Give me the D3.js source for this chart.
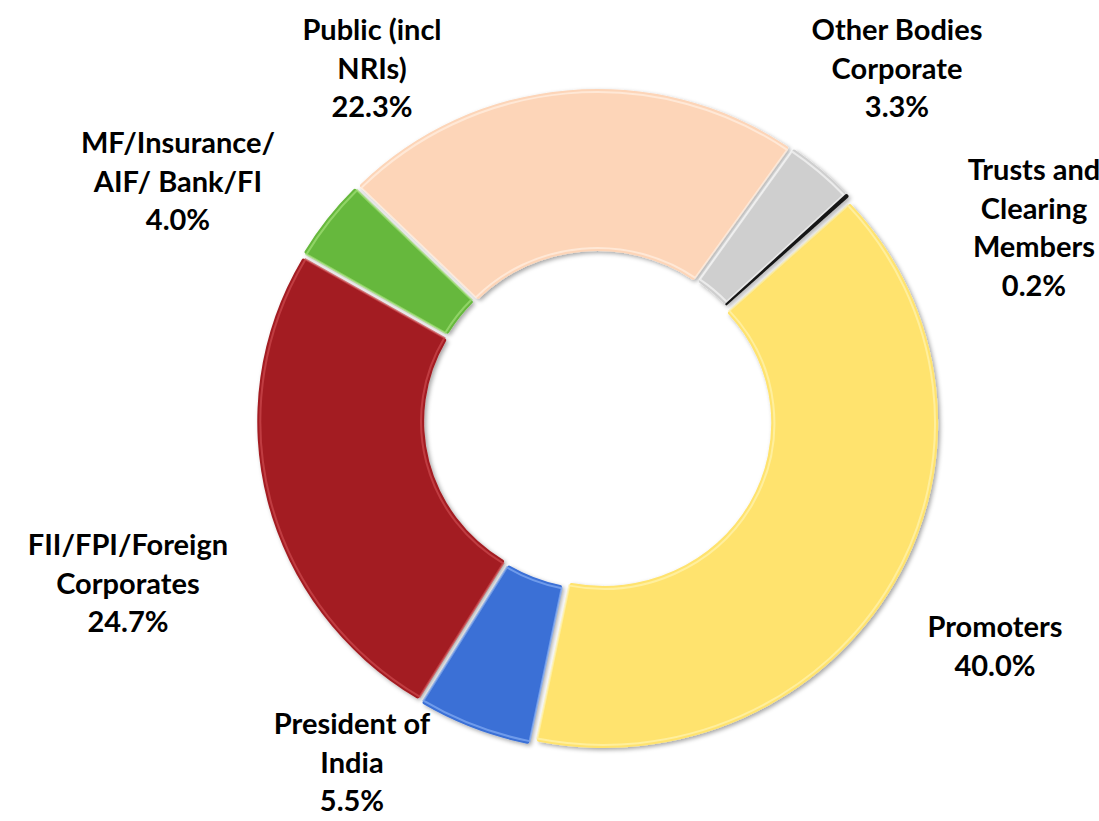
<!DOCTYPE html>
<html>
<head>
<meta charset="utf-8">
<script src="https://cdn.jsdelivr.net/npm/d3@7"></script>
<style>
  body { margin: 0; background: #fff; }
  .label { font-family: Lato, "Open Sans", sans-serif; font-weight: bold; font-size: 29px; fill: #000; }
</style>
</head>
<body>
<svg id="chart"></svg>
<script>
/* data */
var categories = ["Promoters", "President of India", "FII/FPI/Foreign Corporates",
                  "MF/Insurance/ AIF/ Bank/FI", "Public (incl NRIs)",
                  "Other Bodies Corporate", "Trusts and Clearing Members"];
var shares = [40.0, 5.5, 24.7, 4.0, 22.3, 3.3, 0.2];
var labelLines = [["Promoters"], ["President of", "India"], ["FII/FPI/Foreign", "Corporates"],
                  ["MF/Insurance/", "AIF/ Bank/FI"], ["Public (incl", "NRIs)"],
                  ["Other Bodies", "Corporate"], ["Trusts and", "Clearing", "Members"]];

/* settings */
var width = 1099, height = 821,
    cx = 598, cy = 420,
    outerR = 325, innerR = 163,
    stretchX = 1.03,
    explode = 6,
    startDeg = 47.5,
    lineH = 38.5;
var colors = ["#FFE36E", "#3A6FD6", "#A31F24", "#66B83C", "#FDD5B8", "#CFCFCF", "#151515"];
var edgeColors = ["#FFF3B0", "#86AEF4", "#CC4A4E", "#A2E077", "#FFEFE2", "#F6F6F6", "#000"];
// first-line position of each label block (centre x, baseline y)
var labelAt = [[995, 637], [352, 734], [128, 555], [178, 153], [372, 40], [897, 40], [1034, 180]];

var svg = d3.select("#chart").attr("width", width).attr("height", height);

var defs = svg.append("defs");
var f = defs.append("filter").attr("id", "shadow")
    .attr("x", "-10%").attr("y", "-10%").attr("width", "120%").attr("height", "120%");
f.append("feDropShadow").attr("dx", 2).attr("dy", 2).attr("stdDeviation", 2)
    .attr("flood-color", "#000").attr("flood-opacity", 0.35);

var pie = d3.pie().sort(null).value(function (d) { return d; })
    .startAngle(startDeg * Math.PI / 180)
    .endAngle(startDeg * Math.PI / 180 + 2 * Math.PI);

var arc = d3.arc().innerRadius(innerR).outerRadius(outerR).cornerRadius(2);
var bevel = d3.arc().innerRadius(innerR + 3).outerRadius(outerR - 3);

var g = svg.append("g")
    .attr("transform", "translate(" + cx + "," + cy + ") scale(" + stretchX + ",1)");

var slices = g.selectAll(".slice")
  .data(pie(shares))
  .enter().append("g")
    .attr("class", "slice")
    .attr("transform", function (d) {
      var a = (d.startAngle + d.endAngle) / 2;
      return "translate(" + (explode * Math.sin(a)) + "," + (-explode * Math.cos(a)) + ")";
    });

slices.append("path")
    .attr("d", arc)
    .attr("fill", function (d, i) { return colors[i]; })
    .attr("filter", "url(#shadow)");

// light inner edge to mimic the bevel
slices.filter(function (d) { return d.endAngle - d.startAngle > 0.02; })
  .append("path")
    .attr("d", bevel)
    .attr("fill", "none")
    .attr("stroke", function (d) { return edgeColors[d.index]; })
    .attr("stroke-width", 2)
    .attr("stroke-opacity", 0.7);

/* labels */
var labels = svg.selectAll(".label")
  .data(categories)
  .enter().append("text")
    .attr("class", "label")
    .attr("text-anchor", "middle")
    .attr("x", function (d, i) { return labelAt[i][0]; })
    .attr("y", function (d, i) { return labelAt[i][1]; });

labels.each(function (d, i) {
  var t = d3.select(this);
  var lines = labelLines[i].concat([d3.format(".1f")(shares[i]) + "%"]);
  lines.forEach(function (s, k) {
    t.append("tspan").attr("x", labelAt[i][0]).attr("dy", k ? lineH : 0).text(s);
  });
});
</script>
</body>
</html>
